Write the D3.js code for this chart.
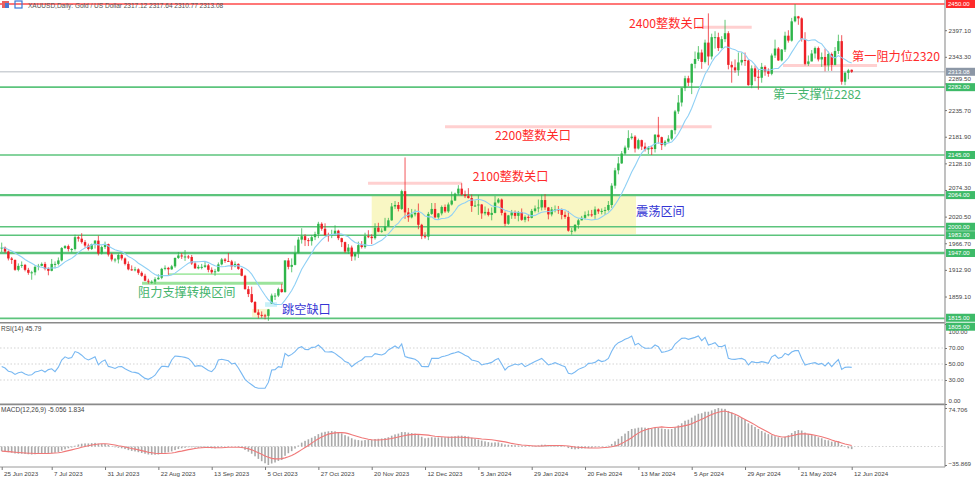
<!DOCTYPE html>
<html><head><meta charset="utf-8">
<script src="https://cdn.jsdelivr.net/npm/d3@7"></script>
<style>
html,body{margin:0;padding:0;background:#fff;}
svg{display:block;font-family:"Liberation Sans",Arial,sans-serif;}
</style></head>
<body><svg id="c" width="975" height="477"></svg>
<script>
// ---------- DATA ----------
const openP=[1958,1958,1950,1936,1933,1913,1921,1923,1913,1907,
1908,1919,1921,1925,1915,1911,1925,1925,1932,1957,
1961,1955,1955,1979,1976,1969,1962,1955,1965,1972,
1946,1959,1965,1944,1934,1934,1943,1936,1925,1914,
1913,1914,1907,1901,1891,1889,1889,1894,1897,1915,
1917,1914,1920,1937,1942,1940,1940,1939,1926,1916,
1919,1919,1922,1913,1908,1910,1924,1934,1931,1930,
1920,1925,1915,1901,1874,1864,1848,1827,1822,1821,
1820,1845,1861,1861,1874,1868,1932,1919,1923,1947,
1974,1981,1973,1971,1979,1985,2006,1996,1983,1982,
1985,1992,1977,1969,1950,1958,1940,1946,1963,1959,
1981,1980,1977,1998,1990,1992,2001,2013,2041,2044,
2036,2072,2029,2019,2025,2028,2004,1981,1980,2026,
2036,2019,2027,2040,2031,2045,2053,2067,2077,2065,
2062,2058,2042,2043,2045,2027,2030,2024,2028,2049,
2055,2028,2006,2023,2029,2022,2029,2014,2020,2018,
2032,2037,2039,2054,2039,2025,2035,2035,2034,2024,
2020,1992,1992,2004,2013,2018,2024,2025,2024,2035,
2031,2032,2034,2044,2083,2114,2128,2148,2160,2179,
2182,2158,2175,2162,2156,2160,2157,2186,2181,2165,
2172,2178,2195,2233,2251,2280,2300,2291,2329,2339,
2352,2333,2372,2344,2383,2383,2361,2379,2391,2327,
2322,2316,2332,2337,2336,2286,2320,2303,2301,2323,
2314,2309,2346,2360,2336,2358,2386,2376,2415,2425,
2421,2379,2329,2334,2350,2361,2338,2343,2326,2349,
2327,2355,2375,2293,2311,2317.12];
const highP=[1968,1960,1952,1939,1934,1926,1930,1925,1917,1911,
1922,1925,1928,1929,1918,1935,1930,1938,1959,1963,
1964,1957,1984,1982,1987,1973,1966,1966,1973,1982,
1962,1970,1966,1947,1937,1946,1945,1938,1930,1922,
1919,1916,1910,1905,1895,1892,1898,1904,1917,1922,
1919,1923,1938,1949,1947,1953,1943,1943,1930,1923,
1925,1929,1925,1918,1915,1928,1937,1937,1947,1933,
1930,1926,1917,1903,1880,1879,1850,1833,1829,1824,
1834,1865,1866,1877,1885,1932,1937,1936,1962,1979,
1997,1985,1977,1983,1990,2010,2009,2007,1988,1994,
2003,1994,1978,1970,1965,1962,1949,1970,1971,1988,
1993,1985,2007,2008,1997,2018,2018,2048,2052,2050,
2075,2140,2038,2036,2035,2047,2006,1989,2030,2048,
2048,2028,2043,2045,2049,2071,2069,2084,2088,2073,
2078,2065,2053,2064,2046,2041,2037,2039,2062,2058,
2057,2031,2024,2034,2033,2032,2037,2023,2025,2036,
2043,2055,2065,2066,2040,2040,2043,2042,2037,2031,
2032,1998,2005,2016,2022,2031,2033,2034,2041,2037,
2037,2040,2052,2088,2119,2141,2153,2164,2195,2189,
2185,2178,2176,2170,2163,2163,2187,2222,2182,2175,
2185,2196,2236,2266,2281,2305,2305,2330,2354,2365,
2358,2378,2431,2390,2395,2392,2385,2418,2395,2334,
2338,2352,2352,2352,2338,2326,2326,2318,2331,2326,
2320,2350,2378,2363,2359,2394,2397,2422,2450,2426,
2423,2393,2346,2357,2364,2364,2352,2360,2354,2352,
2363,2388,2387,2313,2319,2317.64];
const lowP=[1949,1947,1932,1925,1911,1910,1917,1910,1903,1893,
1902,1912,1920,1912,1902,1910,1916,1922,1930,1955,
1950,1948,1952,1970,1966,1958,1952,1953,1956,1942,
1944,1955,1940,1930,1928,1926,1932,1922,1912,1911,
1910,1903,1899,1890,1885,1885,1884,1893,1894,1912,
1903,1913,1917,1935,1935,1931,1935,1923,1915,1914,
1914,1917,1908,1905,1901,1909,1922,1927,1929,1913,
1918,1913,1900,1873,1858,1846,1826,1815,1816,1813,
1810,1844,1852,1858,1867,1867,1914,1908,1922,1946,
1966,1961,1961,1962,1973,1977,1992,1983,1970,1977,
1983,1973,1959,1947,1945,1931,1932,1937,1956,1956,
1977,1965,1974,1989,1988,1991,2000,2012,2036,2031,
2034,2016,2010,2017,2021,1995,1975,1976,1973,2024,
2017,2016,2023,2028,2028,2043,2052,2064,2063,2058,
2057,2030,2040,2024,2016,2023,2021,2013,2027,2047,
2023,2001,2004,2016,2016,2011,2012,2009,2011,2017,
2029,2029,2033,2034,2015,2021,2029,2026,2015,2016,
1990,1984,1989,1996,2013,2015,2021,2020,2016,2026,
2025,2024,2031,2038,2077,2106,2127,2145,2155,2176,
2150,2156,2155,2152,2147,2145,2150,2168,2155,2162,
2170,2175,2187,2228,2243,2274,2284,2268,2320,2335,
2319,2330,2326,2338,2360,2355,2360,2373,2318,2291,
2311,2305,2326,2325,2285,2280,2294,2277,2291,2305,
2303,2306,2341,2335,2334,2353,2372,2374,2413,2408,
2374,2326,2325,2334,2340,2334,2323,2314,2315,2315,
2326,2349,2287,2286,2298,2310.77];
const closeP=[1958,1950,1936,1933,1913,1921,1923,1913,1907,1908,
1919,1921,1925,1915,1911,1925,1925,1932,1957,1961,
1955,1955,1979,1976,1969,1962,1955,1965,1972,1946,
1959,1965,1944,1934,1934,1943,1936,1925,1914,1913,
1914,1907,1901,1891,1889,1889,1894,1897,1915,1917,
1914,1920,1937,1942,1940,1940,1939,1926,1916,1919,
1919,1922,1913,1908,1910,1924,1934,1931,1930,1920,
1925,1915,1901,1874,1864,1848,1827,1822,1821,1820,
1833,1861,1861,1874,1868,1932,1919,1923,1947,1974,
1981,1973,1971,1979,1985,2006,1996,1983,1982,1985,
1992,1977,1969,1950,1958,1940,1946,1963,1959,1981,
1980,1977,1998,1990,1992,2001,2013,2041,2044,2036,
2072,2029,2019,2025,2028,2004,1981,1980,2026,2036,
2019,2027,2040,2031,2045,2053,2067,2077,2065,2062,
2058,2042,2043,2045,2027,2030,2024,2028,2049,2055,
2028,2006,2023,2029,2022,2029,2014,2020,2018,2032,
2037,2039,2054,2039,2025,2035,2035,2034,2024,2020,
1992,1992,2004,2013,2018,2024,2025,2024,2035,2031,
2032,2034,2044,2083,2114,2128,2148,2160,2179,2182,
2158,2175,2162,2156,2160,2157,2186,2181,2165,2172,
2178,2195,2233,2251,2280,2300,2291,2329,2339,2352,
2333,2372,2344,2383,2383,2361,2379,2391,2327,2322,
2316,2332,2337,2336,2286,2320,2303,2301,2323,2314,
2309,2346,2360,2336,2358,2386,2376,2415,2425,2421,
2379,2329,2334,2350,2361,2338,2343,2326,2349,2327,
2355,2375,2293,2311,2316,2313.08];
// light-blue moving average line on the price panel
const maLine=[1958,1957,1954,1951,1947,1943,1939,1934,1930,1926.2,
1922.3,1919.4,1918.3,1916.5,1916.3,1916.7,1916.9,1918.8,1923.8,1929.1,
1932.7,1936.1,1941.5,1947.6,1953.4,1957.1,1960.1,1963.4,1964.9,1963.4,
1963.8,1964.8,1961.3,1957.1,1953.6,1951.7,1949.8,1945.8,1940.0,1936.7,
1932.2,1926.4,1922.1,1917.8,1913.3,1907.9,1903.7,1900.9,1901.0,1901.4,
1901.4,1902.7,1906.3,1911.4,1916.5,1921.6,1926.1,1929.0,1929.1,1929.3,
1929.8,1930.0,1927.6,1924.2,1921.2,1919.6,1919.1,1919.6,1921.0,1921.1,
1921.7,1921.0,1919.8,1916.4,1911.8,1904.2,1893.5,1882.6,1871.7,1861.7,
1852.5,1847.1,1843.1,1843.1,1843.5,1851.9,1861.1,1871.2,1883.8,1899.2,
1914.0,1925.2,1936.2,1946.7,1958.4,1965.8,1973.5,1979.5,1983.0,1984.1,
1985.2,1985.6,1985.4,1982.5,1979.8,1973.2,1968.2,1966.2,1963.9,1963.5,
1962.3,1962.3,1965.2,1969.2,1972.6,1978.7,1985.4,1993.2,2001.7,2007.2,
2016.4,2021.6,2023.7,2027.2,2030.8,2031.1,2027.9,2021.8,2020.0,2020.0,
2014.7,2014.5,2016.6,2017.2,2018.9,2023.8,2032.4,2042.1,2046.0,2048.6,
2052.5,2054.0,2054.3,2055.7,2053.9,2051.6,2047.3,2042.4,2040.8,2040.1,
2037.1,2033.5,2031.5,2029.9,2029.4,2029.3,2028.3,2027.5,2024.4,2022.1,
2023.0,2026.3,2029.4,2030.4,2030.7,2031.3,2033.4,2034.8,2035.4,2034.2,
2029.7,2025.0,2020.0,2017.4,2016.7,2015.6,2014.6,2013.6,2014.7,2015.8,
2019.8,2024.0,2028.0,2035.0,2044.6,2055.0,2067.3,2080.9,2095.3,2110.4,
2123.0,2137.1,2148.9,2156.2,2160.8,2163.7,2167.5,2169.6,2168.2,2167.2,
2169.2,2171.2,2178.3,2187.8,2199.8,2214.1,2224.6,2239.4,2256.8,2274.8,
2290.3,2308.0,2319.1,2332.3,2342.6,2348.7,2357.5,2363.7,2362.5,2359.5,
2357.8,2353.8,2353.1,2348.4,2338.7,2334.6,2327.0,2318.0,2317.6,2316.8,
2316.1,2317.5,2319.8,2319.8,2327.0,2333.6,2340.9,2352.3,2362.5,2373.2,
2380.2,2378.5,2375.9,2377.3,2377.6,2372.8,2369.5,2360.6,2353.0,2343.6,
2341.2,2345.8,2341.7,2337.8,2333.3,2330.8];
const rsiVals=[47,45,41,40,37,39,40,37.5,36,36.5,
40,41,42.5,40,43,44,40.5,46,55,59,
57,58,65.5,64,61,57,55,57,59,49,
53,55,47,46,44.5,46.5,46.7,44,42,40,
39.5,38.3,35,32,30.8,33,36,42,47,47,
46.5,55,60,59.5,59,58.3,57,53,47,48,
47.5,44.6,42,40.4,45,55,56,55,54,50,
51,45,38,30.8,27,24,21,19.6,19.6,19.6,
27,42.5,43,46.7,45.8,63.3,60,62,65.4,70,
71.7,68.3,68,70.8,71,73.75,70,65.4,65,65.4,
63.3,60,57,53,51.7,46.7,50,53,55,59,
59,59,63,62,61.25,63,67.5,70,72.5,69.6,
75,59.2,58,57,56,53,47,46.7,46.7,57,
57,57,59,60,61.25,63,64,65.4,63.3,61,
59,55,54,52.9,48.75,50,50.8,52,55,57,
50,42.5,46.7,48,50,48.75,50.8,46.7,48.75,51,
53,55,57,53,48.75,50,51.7,50,48,46.7,
38.3,37.5,40,43.3,45,46.7,50.8,51,52,55,
53,54,57,66,73,76.7,78.5,80.8,82.5,85,
73.75,75.8,72,69.6,69.6,70,73.75,71.7,64.6,65.4,
66.5,68.5,75,78.5,82,82.5,80.8,82,83.3,85,
79.2,83.3,73.75,75,76.7,72,71.7,73.75,57,56,
55.8,56.5,57,55,48.75,52.9,52,51.7,53,52,
50.8,59,61.25,57,58.3,63.3,61.25,65,66.7,66.7,
57,48.75,50,51,51.7,49.6,50.8,47.5,51.7,46.7,
51.5,55.5,43.3,45.8,46.3,45.79];
const macdMain=[-9,-10,-11,-12,-13.5,-14,-14,-14.5,-15,-15.5,
-15,-14.5,-14,-14,-14,-13,-12,-11,-8,-5.5,
-3.5,-2,1.5,4,5.5,6,6,6.5,7,5.5,
5,5,3,0.5,-1.5,-2.5,-3.5,-5,-7,-8.5,
-9.5,-11,-12.5,-14,-15.5,-16,-16,-15.5,-13.5,-12,
-11,-9.5,-7,-5,-3.5,-2.5,-1.5,-1.5,-2,-2.5,
-2.5,-2.5,-3,-3.5,-3.5,-2.5,-1,0,0.5,0,
0,-1,-3,-6.5,-10,-14,-19,-24,-28.5,-32.5,
-35.869,-33,-31,-28,-26,-18,-13,-9,-4,2,
7.5,11,14,17,20,24,27,28.5,29.5,30,
29.5,27.5,25.5,22,19.5,16,13.5,12.5,11.5,12.5,
13,13,14.5,15,15.5,16.5,18,21,23.5,25,
28,28,27,26,25,22.5,19,16,17,18,
17.5,17.5,18,18,19,19.5,20,21,21,20.5,
19.5,17,15,13.5,11.5,10,8.5,7.5,8,8,
6,4,3.5,3,2.5,2,1.5,1,0.3,0.5,
1.5,2,3.5,3.5,2.5,2.5,2.5,2,1,0,
-3,-5,-5.5,-5,-4,-3.5,-3,-2.5,-1.5,-1,
-0.5,0,1.5,5,10,15,20,25,30,34,
35,36.5,37,36.5,36,35,36,36.5,35,34,
33.5,34,37,41,45,50,52,56,60,63.5,
64.5,67.5,67.5,70,72.5,74.706,73.5,73,69,66,
61,58,55,51.5,45,42,38,34,30,27,
24,22,20,18,16.5,19,22,26,30,32,
31,27,24,22,21,18,16,13,12,9.5,
9,10,3,-1,-3.5,-5.056];
const macdSignal=[-9,-9.5,-10,-10.5,-11,-11.5,-12,-12.5,-13,-13,
-13.5,-13.5,-13.5,-13.5,-13.5,-13,-12.5,-12,-11,-9.5,
-8,-6.5,-5,-3.5,-1.5,0,1.5,3,4,5,
5.5,5.5,5,4,3,1.5,0.5,-1,-2.5,-4,
-5,-6.5,-8,-9.5,-11,-12,-13,-13.5,-13.5,-13.5,
-13,-12.5,-11.5,-10,-9,-7.5,-6,-5,-4,-3,
-2.5,-2,-2,-2,-2.5,-2.5,-2.5,-2,-1.5,-1.5,
-1.5,-1.5,-2,-3,-4.5,-6.5,-9,-12,-15,-18.5,
-21,-23,-24,-24,-23.5,-22,-20,-17.5,-14,-10,
-6,-2,2,6.5,11,15,18.5,21.5,24,25.5,
26.5,27,27,26.5,25,23,21,19,17,15.5,
14,13,12.5,12.5,13,13.5,14.5,15.5,17,18.5,
20,21.5,22.5,23,23.5,23.5,23,22.5,22,21,
20,19.5,19,18.5,18,18,18,18,18,17.5,
17,16.5,16,15.5,14.5,14,13.5,13,12,11,
10,9,7.5,6,5,4,3,2.5,2,1.5,
1,1,1,1.5,2,2,2,2,2,1.5,
1,0,-1,-1.5,-2,-2.5,-3,-3,-3,-3,
-2.5,-2,-1.5,-0.5,1,3,6,9.5,13,17,
22,26,29.5,32,34,35.5,37,37.5,38,37.5,
37,37,37.5,38,39,40.5,42,44,47,50,
53,56,59,62,64.5,66.5,68,69,67,65,
62.5,59.5,56,52.5,49,45.5,42,38,34.5,31,
27.5,24,21.5,20,18.5,18.5,19.5,21,22.5,24,
24.5,24.5,24,23,22,20.5,19,17,15,12.5,
10.5,9,7,5,3.5,1.834];
const dateTickIdx=[0,15,31,47,63,79,95,111,127,143,159,175,191,207,223,239,255];
const dateTickLabels=["25 Jun 2023","7 Jul 2023","31 Jul 2023","22 Aug 2023","13 Sep 2023","5 Oct 2023","27 Oct 2023","20 Nov 2023","12 Dec 2023","5 Jan 2024","29 Jan 2024","20 Feb 2024","13 Mar 2024","5 Apr 2024","29 Apr 2024","21 May 2024","12 Jun 2024"];
const priceTicks=[2397.10,2343.30,2289.50,2235.70,2181.90,2128.10,2074.30,2020.50,1966.70,1912.90,1859.10];
const supportLevels=[2282,2145,2064,2000,1983,1947,1815,1805];
const resistanceTop=2450;
const lastPrice=2313.08;
const rsiLevels=[70,50,30];
const rsiTicks=[100,70,50,30,0];
const macdTicks=[74.706,-35.869];

// ---------- SCALES ----------
const svg=d3.select("#c");
const AX=945;
const x=d3.scaleLinear().domain([0,255]).range([1.7,851.7]);
const yP=d3.scaleLinear().domain([1805,2450]).range([323.3,4]);
const yR=d3.scaleLinear().domain([0,100]).range([404,324]);
const yM=d3.scaleLinear().domain([-35.869,74.706]).range([465,408]);

const GREEN="#5cc47c", GREENTXT="#45b46c", RED="#ff2a2a", BLUE="#3434d4";
const BULL="#2fb54a", BEAR="#ee2026";

const defs=svg.append("defs");
defs.append("clipPath").attr("id","cm").append("rect").attr("x",0).attr("y",0).attr("width",AX).attr("height",322.5);
defs.append("clipPath").attr("id","cr").append("rect").attr("x",0).attr("y",324).attr("width",AX).attr("height",80);
defs.append("clipPath").attr("id","cd").append("rect").attr("x",0).attr("y",405).attr("width",AX).attr("height",62);

// ---------- MAIN PANEL ----------
const gm=svg.append("g").attr("clip-path","url(#cm)");

// range zone (yellow)
gm.append("rect").attr("x",x(111)).attr("width",x(190.3)-x(111))
  .attr("y",yP(2064.2)).attr("height",yP(1985.4)-yP(2064.2)).attr("fill","#f9f7c4");
// gap box (cyan) & low box (pale yellow)
gm.append("rect").attr("x",x(79)).attr("width",x(82.6)-x(79))
  .attr("y",yP(1847.6)).attr("height",yP(1838.3)-yP(1847.6)).attr("fill","#c9f1f8");
gm.append("rect").attr("x",x(75.1)).attr("width",x(80.5)-x(75.1))
  .attr("y",yP(1834)).attr("height",yP(1817.7)-yP(1834)).attr("fill","#faf5cf");

// horizontal levels
gm.append("line").attr("x1",0).attr("x2",AX).attr("y1",yP(lastPrice)).attr("y2",yP(lastPrice))
  .attr("stroke","#cdd1d6").attr("stroke-width",1.5);
gm.selectAll(".lvl").data(supportLevels).join("line")
  .attr("x1",0).attr("x2",AX).attr("y1",d=>yP(d)).attr("y2",d=>yP(d))
  .attr("stroke",GREEN).attr("stroke-width",d=>(d===1947||d===2064)?2.4:1.6);
gm.append("line").attr("x1",0).attr("x2",AX).attr("y1",yP(resistanceTop)).attr("y2",yP(resistanceTop))
  .attr("stroke","#ff4a4a").attr("stroke-width",1.6);

// pink round-number lines
const pinkSegs=[[208.6,225,2403],[234.4,262.6,2326],[133,213,2202],[109.9,138.1,2088]];
gm.selectAll(".pk").data(pinkSegs).join("line")
  .attr("x1",d=>x(d[0])).attr("x2",d=>x(d[1])).attr("y1",d=>yP(d[2])).attr("y2",d=>yP(d[2]))
  .attr("stroke","#ffd0d0").attr("stroke-width",3);
// light green resistance/support conversion lines
gm.append("line").attr("x1",x(42.1)).attr("x2",x(84.4)).attr("y1",yP(1886)).attr("y2",yP(1886))
  .attr("stroke","#9be39b").attr("stroke-width",3);
gm.append("line").attr("x1",x(49.9)).attr("x2",x(72.1)).attr("y1",yP(1904.5)).attr("y2",yP(1904.5))
  .attr("stroke","#a8eaa8").attr("stroke-width",1.8);

// candles
const idx=d3.range(closeP.length);
const cg=gm.append("g");
cg.selectAll(".w").data(idx).join("line")
  .attr("x1",i=>x(i)).attr("x2",i=>x(i)).attr("y1",i=>yP(highP[i])).attr("y2",i=>yP(lowP[i]))
  .attr("stroke",i=>closeP[i]>=openP[i]?BULL:BEAR).attr("stroke-width",1).attr("opacity",0.75);
cg.selectAll(".b").data(idx).join("rect")
  .attr("x",i=>x(i)-1.2).attr("width",2.4)
  .attr("y",i=>yP(Math.max(openP[i],closeP[i])))
  .attr("height",i=>Math.max(1,Math.abs(yP(openP[i])-yP(closeP[i]))))
  .attr("fill",i=>closeP[i]>=openP[i]?BULL:BEAR);

// moving average
gm.append("path").datum(maLine)
  .attr("d",d3.line().x((d,i)=>x(i)).y(d=>yP(d)))
  .attr("fill","none").attr("stroke","#8fd0f5").attr("stroke-width",1.1);

// annotations
const notes=[
 ["2400整数关口",188.2,2410.5,RED],
 ["第一阻力位2320",255.1,2343,RED],
 ["第一支撑位2282",231.4,2267,GREENTXT],
 ["2200整数关口",148,2183.3,RED],
 ["2100整数关口",141.3,2101,RED],
 ["震荡区间",190.3,2030,BLUE],
 ["阻力支撑转换区间",40.9,1867,GREENTXT],
 ["跳空缺口",84.1,1831.8,BLUE]
];
svg.selectAll(".note").data(notes).join("text")
  .attr("x",d=>x(d[1])).attr("y",d=>yP(d[2])).attr("dy","0.36em")
  .attr("fill",d=>d[3]).attr("font-family","'Noto Sans CJK SC',sans-serif")
  .attr("font-size",12.2).text(d=>d[0]);

// header
svg.append("rect").attr("x",2).attr("y",1).attr("width",7).attr("height",7).attr("fill","#e86060");
svg.append("rect").attr("x",5).attr("y",3).attr("width",4).attr("height",5).attr("fill","#4a78d0");
svg.append("rect").attr("x",15).attr("y",1).attr("width",7).attr("height",7).attr("fill","none").attr("stroke","#3b78d8").attr("stroke-width",1.2);
svg.append("text").attr("x",28).attr("y",7.5).attr("font-size",6.5).attr("fill","#555")
  .text("XAUUSD,Daily:  Gold / US Dollar  2317.12 2317.64 2310.77 2313.08");

// ---------- RSI PANEL ----------
const gr=svg.append("g").attr("clip-path","url(#cr)");
gr.selectAll(".rl").data(rsiLevels).join("line")
  .attr("x1",0).attr("x2",AX).attr("y1",d=>yR(d)).attr("y2",d=>yR(d))
  .attr("stroke","#c8c8c8").attr("stroke-width",0.8).attr("stroke-dasharray","1.5,2");
gr.append("path").datum(rsiVals)
  .attr("d",d3.line().x((d,i)=>x(i)).y(d=>yR(d)))
  .attr("fill","none").attr("stroke","#78b8f2").attr("stroke-width",1.1);
svg.append("text").attr("x",1).attr("y",331).attr("font-size",6.5).attr("fill","#444").text("RSI(14) 45.79");

// ---------- MACD PANEL ----------
const gd=svg.append("g").attr("clip-path","url(#cd)");
gd.append("line").attr("x1",0).attr("x2",AX).attr("y1",yM(0)).attr("y2",yM(0))
  .attr("stroke","#c8c8c8").attr("stroke-width",0.8).attr("stroke-dasharray","1.5,2");
gd.selectAll(".h").data(idx).join("rect")
  .attr("x",i=>x(i)-0.8).attr("width",1.6)
  .attr("y",i=>Math.min(yM(0),yM(macdMain[i])))
  .attr("height",i=>Math.abs(yM(macdMain[i])-yM(0)))
  .attr("fill","#a9a9a9");
gd.append("path").datum(macdSignal)
  .attr("d",d3.line().x((d,i)=>x(i)).y(d=>yM(d)))
  .attr("fill","none").attr("stroke","#f07878").attr("stroke-width",1.1);
svg.append("text").attr("x",1).attr("y",412).attr("font-size",6.5).attr("fill","#444").text("MACD(12,26,9) -5.056 1.834");

// ---------- FRAMES ----------
svg.append("line").attr("x1",0).attr("x2",AX).attr("y1",322.8).attr("y2",322.8).attr("stroke","#8a8a8a").attr("stroke-width",1.6);
svg.append("line").attr("x1",0).attr("x2",AX).attr("y1",404.3).attr("y2",404.3).attr("stroke","#8a8a8a").attr("stroke-width",1.8);
svg.append("line").attr("x1",0).attr("x2",AX).attr("y1",467).attr("y2",467).attr("stroke","#9a9a9a").attr("stroke-width",1);
svg.append("line").attr("x1",AX).attr("x2",AX).attr("y1",0).attr("y2",467).attr("stroke","#a6a6a6").attr("stroke-width",1.4);

// ---------- AXES ----------
function styleAxis(g){
  g.select(".domain").remove();
  g.selectAll("text").attr("font-size",6.2).attr("fill","#444").attr("font-family","'Liberation Sans',Arial,sans-serif");
  g.selectAll(".tick line").attr("stroke","#777");
}
const pa=svg.append("g").attr("transform",`translate(${AX},0)`)
  .call(d3.axisRight(yP).tickValues(priceTicks).tickFormat(d3.format(".2f")).tickSize(2).tickPadding(1.5))
  .call(styleAxis);
// labels partly hidden by level boxes in the reference: nudge them above the boxes
pa.selectAll(".tick text").attr("y",d=>d===2289.5?-4.6:(d===2074.3?-2.8:0));
const ra=svg.append("g").attr("transform",`translate(${AX},0)`)
  .call(d3.axisRight(yR).tickValues(rsiTicks).tickFormat(d3.format(".2f")).tickSize(2).tickPadding(1.5))
  .call(styleAxis);
ra.selectAll(".tick text").attr("dy",d=>d===100?"1.55em":(d===0?"-0.3em":"0.32em"));
const ma=svg.append("g").attr("transform",`translate(${AX},0)`)
  .call(d3.axisRight(yM).tickValues(macdTicks).tickFormat(d3.format(".3f")).tickSize(2).tickPadding(1.5))
  .call(styleAxis);
ma.selectAll(".tick text").attr("dy",d=>d>0?"0.6em":"0.1em");
const ta=svg.append("g").attr("transform","translate(0,467)")
  .call(d3.axisBottom(x).tickValues(dateTickIdx).tickFormat((d,i)=>dateTickLabels[i]).tickSize(3).tickPadding(1.5))
  .call(styleAxis);
ta.selectAll(".tick text").attr("text-anchor","start").attr("dx","0.3em");

// price label boxes (the 1805 box sits just under the 1815 box)
const boxes=[[resistanceTop,"#ff2a2a",0],[lastPrice,"#8c97a6",0]].concat(supportLevels.map(v=>[v,"#3dba68",v===1815?-0.6:(v===1805?3.4:0)]));
const bg=svg.append("g");
bg.selectAll("rect").data(boxes).join("rect")
  .attr("x",AX+1).attr("y",d=>yP(d[0])+d[2]-4).attr("width",29).attr("height",8).attr("fill",d=>d[1]);
bg.selectAll("text").data(boxes).join("text")
  .attr("x",AX+3).attr("y",d=>yP(d[0])+d[2]).attr("dy","0.34em")
  .attr("font-size",6).attr("fill","#fff").text(d=>d3.format(".2f")(d[0]));
</script>
</body></html>
